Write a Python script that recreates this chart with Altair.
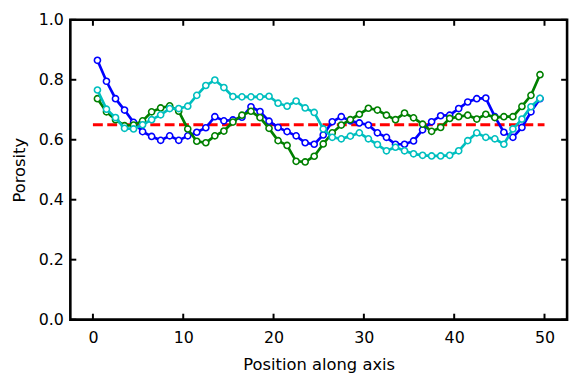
import altair as alt
import pandas as pd

# ---- data ----
positions = [0.5, 1.5, 2.5, 3.5, 4.5, 5.5, 6.5, 7.5, 8.5, 9.5,
             10.5, 11.5, 12.5, 13.5, 14.5, 15.5, 16.5, 17.5, 18.5, 19.5,
             20.5, 21.5, 22.5, 23.5, 24.5, 25.5, 26.5, 27.5, 28.5, 29.5,
             30.5, 31.5, 32.5, 33.5, 34.5, 35.5, 36.5, 37.5, 38.5, 39.5,
             40.5, 41.5, 42.5, 43.5, 44.5, 45.5, 46.5, 47.5, 48.5, 49.5]

blue = [0.865, 0.795, 0.737, 0.699, 0.658, 0.627, 0.611, 0.598, 0.613, 0.598,
        0.613, 0.625, 0.640, 0.677, 0.663, 0.666, 0.675, 0.710, 0.694, 0.662,
        0.641, 0.627, 0.613, 0.590, 0.585, 0.616, 0.660, 0.677, 0.663, 0.656,
        0.649, 0.623, 0.608, 0.585, 0.585, 0.596, 0.633, 0.660, 0.680, 0.682,
        0.704, 0.726, 0.737, 0.739, 0.677, 0.625, 0.608, 0.641, 0.693, 0.737]

cyan = [0.766, 0.702, 0.674, 0.638, 0.636, 0.650, 0.667, 0.683, 0.704, 0.704,
        0.712, 0.748, 0.781, 0.799, 0.774, 0.744, 0.743, 0.743, 0.743, 0.745,
        0.722, 0.712, 0.729, 0.706, 0.691, 0.636, 0.608, 0.603, 0.612, 0.623,
        0.603, 0.584, 0.563, 0.575, 0.563, 0.553, 0.548, 0.546, 0.546, 0.548,
        0.563, 0.597, 0.623, 0.608, 0.603, 0.585, 0.636, 0.669, 0.710, 0.738]

green = [0.737, 0.693, 0.667, 0.647, 0.649, 0.663, 0.693, 0.706, 0.713, 0.695,
         0.636, 0.595, 0.590, 0.613, 0.629, 0.659, 0.682, 0.695, 0.674, 0.638,
         0.597, 0.581, 0.528, 0.526, 0.545, 0.586, 0.623, 0.649, 0.667, 0.685,
         0.705, 0.699, 0.682, 0.667, 0.689, 0.673, 0.652, 0.628, 0.641, 0.671,
         0.677, 0.682, 0.669, 0.685, 0.674, 0.677, 0.677, 0.711, 0.748, 0.817]

series_names = ["blue", "green", "cyan"]
series_colors = ["#0000ff", "#008000", "#00bfbf"]

mean_level = 0.65
mean_start = 0
mean_end = 50

x_ticks = [0, 10, 20, 30, 40, 50]
y_ticks = [0.0, 0.2, 0.4, 0.6, 0.8, 1.0]

# ---- build tables ----
values = {"blue": blue, "green": green, "cyan": cyan}
rows = []
for name in series_names:
    for xv, yv in zip(positions, values[name]):
        rows.append({"x": xv, "y": yv, "series": name})
df = pd.DataFrame(rows)

W, H = 502, 303
FONT = "DejaVu Sans"

x_scale = alt.Scale(domain=[-2.5, 52.5], nice=False, zero=False)
y_scale = alt.Scale(domain=[0, 1], nice=False, zero=False)
x_axis = alt.Axis(values=x_ticks, format="d", title="Position along axis",
                  ticks=False, tickSize=0, domain=False, grid=False,
                  labelFontSize=16, titleFontSize=16.5, labelPadding=10,
                  titlePadding=11, labelColor="black", titleColor="black",
                  titleFontWeight="normal", labelFont=FONT, titleFont=FONT)
y_axis = alt.Axis(values=y_ticks, format=".1f", title="Porosity",
                  ticks=False, tickSize=0, domain=False, grid=False,
                  labelFontSize=16, titleFontSize=16.5, labelPadding=7,
                  titlePadding=11, labelColor="black", titleColor="black",
                  titleFontWeight="normal", labelFont=FONT, titleFont=FONT)

X = alt.X("x:Q", scale=x_scale, axis=x_axis)
Y = alt.Y("y:Q", scale=y_scale, axis=y_axis)
color_scale = alt.Scale(domain=series_names, range=series_colors)

layers = []

# red dashed reference line
ref_df = pd.DataFrame({"x": [mean_start], "x2": [mean_end], "y": [mean_level]})
layers.append(
    alt.Chart(ref_df).mark_rule(color="#ff0000", strokeWidth=2.8,
                                strokeDash=[10, 4.5]).encode(
        x=X, x2="x2:Q", y=Y)
)

# series lines with open circle markers
for name in series_names:
    layers.append(
        alt.Chart(df).transform_filter(alt.datum.series == name).mark_line(
            strokeWidth=2.7,
            point=alt.OverlayMarkDef(filled=False, fill="white", size=38,
                                     strokeWidth=1.6, opacity=1),
        ).encode(x=X, y=Y,
                 color=alt.Color("series:N", scale=color_scale, legend=None))
    )

# inward ticks on all four sides
xt = pd.DataFrame({"x": x_ticks})
yt = pd.DataFrame({"y": y_ticks})
tick_style = dict(color="black", strokeWidth=2)
layers.append(alt.Chart(xt).mark_rule(**tick_style).encode(
    x=X, y=alt.value(H), y2=alt.value(H - 6)))
layers.append(alt.Chart(xt).mark_rule(**tick_style).encode(
    x=X, y=alt.value(0), y2=alt.value(6)))
layers.append(alt.Chart(yt).mark_rule(**tick_style).encode(
    y=Y, x=alt.value(0), x2=alt.value(6)))
layers.append(alt.Chart(yt).mark_rule(**tick_style).encode(
    y=Y, x=alt.value(W - 6), x2=alt.value(W)))

chart = alt.layer(*layers).properties(
    width=W, height=H,
    autosize=alt.AutoSizeParams(type="none"),
    padding={"left": 63, "top": 10, "right": 8, "bottom": 54},
    background="white",
).configure(
    font=FONT,
    view=alt.ViewConfig(stroke="black", strokeWidth=2.6),
)

chart.save("out.html", embed_options={"renderer": "svg", "actions": False})
